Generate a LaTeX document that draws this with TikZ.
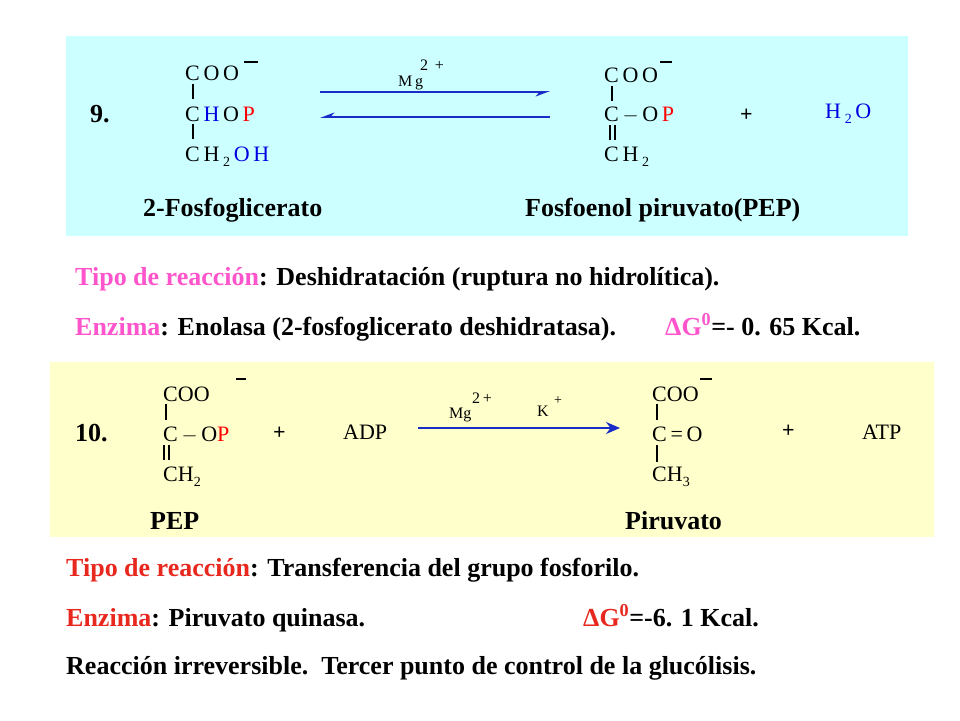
\documentclass[tikz,border=0pt]{standalone}
\usepackage{fontspec}
\setmainfont{Liberation Serif}
\usetikzlibrary{arrows.meta}
\definecolor{cyanbg}{HTML}{CCFFFF}
\definecolor{yelbg}{HTML}{FFFFCC}
\definecolor{pinkc}{HTML}{FF55CC}
\definecolor{redc}{HTML}{E8281E}
\definecolor{bluec}{HTML}{0000E0}
\definecolor{arrc}{HTML}{1A2CC8}
\newcommand{\sbs}[1]{\raisebox{-5pt}{\fontsize{14}{14}\selectfont #1}}
\begin{document}
\begin{tikzpicture}[x=1pt,y=-1pt,
  chem/.style={font=\fontsize{22}{22}\selectfont,inner sep=0pt,anchor=base west},
  lab/.style={font=\fontsize{26}{26}\selectfont\bfseries,inner sep=0pt,anchor=base west},
  bond/.style={line width=1.2pt},
  rxn/.style={line width=1.8pt,arrc}]
\useasboundingbox (0,0) rectangle (960,720);
\fill[white] (0,0) rectangle (960,720);
\fill[cyanbg] (66,36) rectangle (908,236);
\fill[yelbg] (50,362) rectangle (934,537);
% reaction 9
\node[lab] (n9) at (90,122) {9.};
\node[chem] (a1) at (185,80) {C\,O\,O};
\draw[bond] (244,62) -- (258,62);
\draw[bond] (193,84) -- (193,99);
\node[chem] (a2) at (185,121) {C\,\textcolor{bluec}{H}\,O\,\textcolor{red}{P}};
\draw[bond] (193,124) -- (193,139);
\node[chem] (a3) at (185,161) {C\,H\,\sbs{2}\,\textcolor{bluec}{O\,H}};
\node[chem,font=\fontsize{16}{16}\selectfont] (mg9) at (398,86) {M\,g};
\node[chem,font=\fontsize{16}{16}\selectfont] (mg9s) at (420,70) {2\, +};
\coordinate (f1) at (320,92); \coordinate (f2) at (550,92);
\coordinate (b1) at (550,117); \coordinate (b2) at (320,117);
\draw[rxn,-{Stealth[right,length=12pt,width=9pt]}] (f1) -- (f2);
\draw[rxn,-{Stealth[right,length=12pt,width=9pt]}] (b1) -- (b2);
\node[chem] (p1) at (604,82) {C\,O\,O};
\draw[bond] (660,62) -- (672,62);
\draw[bond] (612,86) -- (612,101);
\node[chem] (p2) at (604,121) {C\,$-$\,O\,\textcolor{red}{P}};
\draw[bond] (610,125) -- (610,140); \draw[bond] (615,125) -- (615,140);
\node[chem] (p3) at (604,161) {C\,H\,\sbs{2}};
\node[chem] (pl9) at (740,121) {\textbf{+}};
\node[chem,text=bluec] (h2o) at (825,118) {H\,\sbs{2}\,O};
\node[lab] (l1) at (143,216) {2-Fosfoglicerato};
\node[lab] (l2) at (525,216) {Fosfoenol piruvato(PEP)};
% text 1
\node[lab] (t1) at (75,285) {\textcolor{pinkc}{Tipo de reacción}: Deshidratación (ruptura no hidrolítica).};
\node[lab] (t2) at (75,335) {\textcolor{pinkc}{Enzima}: Enolasa (2-fosfoglicerato deshidratasa).};
\node[lab] (t3) at (665,335) {\textcolor{pinkc}{ΔG\textsuperscript{0}}=- 0. 65 Kcal.};
% reaction 10
\node[lab] (n10) at (75,441) {10.};
\node[chem] (c1) at (163,401) {COO};
\draw[bond] (236,379) -- (246,379);
\draw[bond] (166,404) -- (166,420);
\node[chem] (c2) at (163,441) {C\,$-$\,O\textcolor{red}{P}};
\draw[bond] (164,445) -- (164,460); \draw[bond] (169,445) -- (169,460);
\node[chem] (c3) at (163,481) {CH\sbs{2}};
\node[chem] (pl1) at (273,439) {\textbf{+}};
\node[chem] (adp) at (343,439) {ADP};
\node[chem,font=\fontsize{16}{16}\selectfont] (mg10) at (449,418) {Mg};
\node[chem,font=\fontsize{16}{16}\selectfont] (mg10s) at (472,403) {2\,+};
\node[chem,font=\fontsize{16}{16}\selectfont] (k) at (537,416) {K};
\node[chem,font=\fontsize{14}{14}\selectfont] (ks) at (554,404) {+};
\coordinate (r1) at (418,428); \coordinate (r2) at (620,428);
\draw[rxn,-{Stealth[length=14pt,width=12pt]}] (r1) -- (r2);
\node[chem] (d1) at (652,401) {COO};
\draw[bond] (700,379) -- (712,379);
\draw[bond] (657,404) -- (657,420);
\node[chem] (d2) at (652,441) {C\,=\,O};
\draw[bond] (657,445) -- (657,462);
\node[chem] (d3) at (652,481) {CH\sbs{3}};
\node[chem] (pl2) at (782,437) {\textbf{+}};
\node[chem] (atp) at (862,439) {ATP};
\node[lab] (l3) at (150,529) {PEP};
\node[lab] (l4) at (625,529) {Piruvato};
% text 2
\node[lab] (u1) at (66,576) {\textcolor{redc}{Tipo de reacción}: Transferencia del grupo fosforilo.};
\node[lab] (u2) at (66,626) {\textcolor{redc}{Enzima}: Piruvato quinasa.};
\node[lab] (u3) at (583,626) {\textcolor{redc}{ΔG\textsuperscript{0}}=-6. 1 Kcal.};
\node[lab] (u4) at (66,674) {Reacción irreversible.\ \ Tercer punto de control de la glucólisis.};
\end{tikzpicture}
\end{document}
